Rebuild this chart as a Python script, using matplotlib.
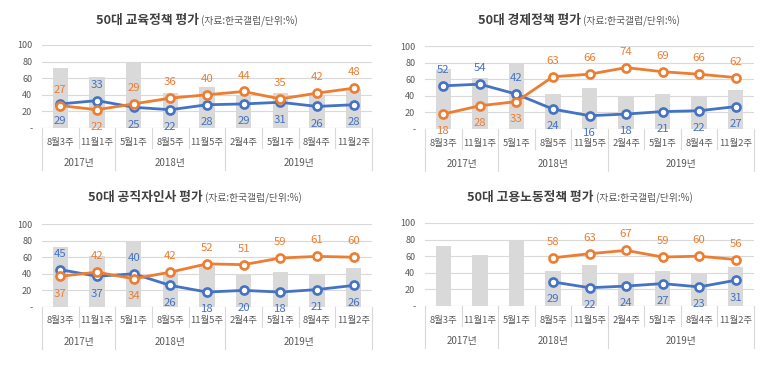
import numpy as np
import matplotlib
matplotlib.use("Agg")
import matplotlib.pyplot as plt
import matplotlib.transforms as mtransforms

plt.rcParams['font.family'] = ['Noto Sans CJK KR', 'DejaVu Sans']

W, H = 773, 368

weeks = ["8월3주", "11월1주", "5월1주", "8월5주", "11월5주", "2월4주", "5월1주", "8월4주", "11월2주"]
years = ["2017년", "2018년", "2019년"]
year_spans = [2, 3, 4]
approval = [72, 62, 80, 42, 50, 40, 42, 39, 47]

titles = ["50대 교육정책 평가", "50대 경제정책 평가", "50대 공직자인사 평가", "50대 고용노동정책 평가"]
subtitle = "(자료:한국갤럽/단위:%)"

nan = np.nan
edu_blue = [29, 33, 25, 22, 28, 29, 31, 26, 28]
edu_orange = [27, 22, 29, 36, 40, 44, 35, 42, 48]
eco_blue = [52, 54, 42, 24, 16, 18, 21, 22, 27]
eco_orange = [18, 28, 33, 63, 66, 74, 69, 66, 62]
hr_blue = [45, 37, 40, 26, 18, 20, 18, 21, 26]
hr_orange = [37, 42, 34, 42, 52, 51, 59, 61, 60]
job_blue = [nan, nan, nan, 29, 22, 24, 27, 23, 31]
job_orange = [nan, nan, nan, 58, 63, 67, 59, 60, 56]

# which series gets its label above the marker ('o' orange, 'b' blue)
edu_top = "obooooooo"
eco_top = "bbboooooo"
hr_top = "boboooooo"
job_top = "ooooooooo"

panels = [
    (titles[0], edu_blue, edu_orange, edu_top, (42, 372, 45, 128), (197, 20)),
    (titles[1], eco_blue, eco_orange, eco_top, (425, 754, 46, 129), (579, 20)),
    (titles[2], hr_blue, hr_orange, hr_top, (42, 372, 224, 307), (195, 197)),
    (titles[3], job_blue, job_orange, job_top, (425, 754, 223, 306), (580, 197)),
]

BLUE = '#4472C4'
ORANGE = '#ED7D31'
GRID = '#d9d9d9'
TXT = '#595959'

fig = plt.figure(figsize=(W / 100, H / 100), dpi=100)
title_pairs = []

for title, blue, orange, top, (l, r, t, b), (tx, ty) in panels:
    ax = fig.add_axes([l / W, 1 - b / H, (r - l) / W, (b - t) / H])
    x = np.arange(len(weeks))
    ax.bar(x, approval, width=0.42, color=GRID, zorder=1)
    for vals, col in ((blue, BLUE), (orange, ORANGE)):
        ax.plot(x, vals, color=col, lw=2, marker='o', ms=5.8, mfc='white',
                mec=col, mew=1.9, zorder=3)
    for i in range(len(weeks)):
        for vals, col, key in ((blue, BLUE, 'b'), (orange, ORANGE, 'o')):
            v = vals[i]
            if np.isnan(v):
                continue
            dy = 11.5 if top[i] == key else -12.5
            ax.annotate(f"{v:.0f}", (i, v), xytext=(0, dy), textcoords='offset points',
                        ha='center', va='center', color=col, fontsize=8.2, zorder=4)

    ax.set_xlim(-0.5, len(weeks) - 0.5)
    ax.set_ylim(0, 100)
    ax.set_yticks(range(0, 101, 20))
    ax.set_yticklabels(['-'] + [str(v) for v in range(20, 101, 20)])
    ax.tick_params(axis='y', length=0, pad=7, labelsize=6.5, labelcolor=TXT)
    ax.set_xticks([])
    for s in ax.spines.values():
        s.set_visible(False)
    ax.grid(axis='y', color=GRID, lw=0.8, zorder=0)
    ax.set_axisbelow(True)
    ax.axhline(0, color=GRID, lw=0.8, zorder=2)

    # category table under the axis
    h = b - t
    trans = mtransforms.blended_transform_factory(ax.transData, ax.transAxes)
    row1 = -20 / h
    row2 = -42 / h
    bounds = np.cumsum([0] + year_spans) - 0.5
    for i in range(len(weeks) + 1):
        xb = i - 0.5
        low = row2 if xb in bounds else row1
        ax.plot([xb, xb], [0, low], color=GRID, lw=0.8, transform=trans, clip_on=False)
    for i, w in enumerate(weeks):
        ax.text(i, -14 / h, w, transform=trans, ha='center', va='center',
                fontsize=6.8, color=TXT)
    for k, yr in enumerate(years):
        xc = (bounds[k] + bounds[k + 1]) / 2
        ax.text(xc, -35 / h, yr, transform=trans, ha='center', va='center',
                fontsize=7, color=TXT)

    t1 = fig.text(0, 0, title, fontsize=9.2, fontweight='bold', color='#404040',
                  va='center', ha='left')
    t2 = fig.text(0, 0, " " + subtitle, fontsize=7, color=TXT, va='center', ha='left')
    title_pairs.append((t1, t2, tx, ty))

# center title + subtitle as one line
fig.canvas.draw()
rend = fig.canvas.get_renderer()
for t1, t2, tx, ty in title_pairs:
    w1 = t1.get_window_extent(rend).width
    w2 = t2.get_window_extent(rend).width
    x0 = tx - (w1 + w2) / 2
    t1.set_position((x0 / W, 1 - ty / H))
    t2.set_position(((x0 + w1) / W, 1 - (ty + 1) / H))

fig.savefig("out.png", dpi=100)
